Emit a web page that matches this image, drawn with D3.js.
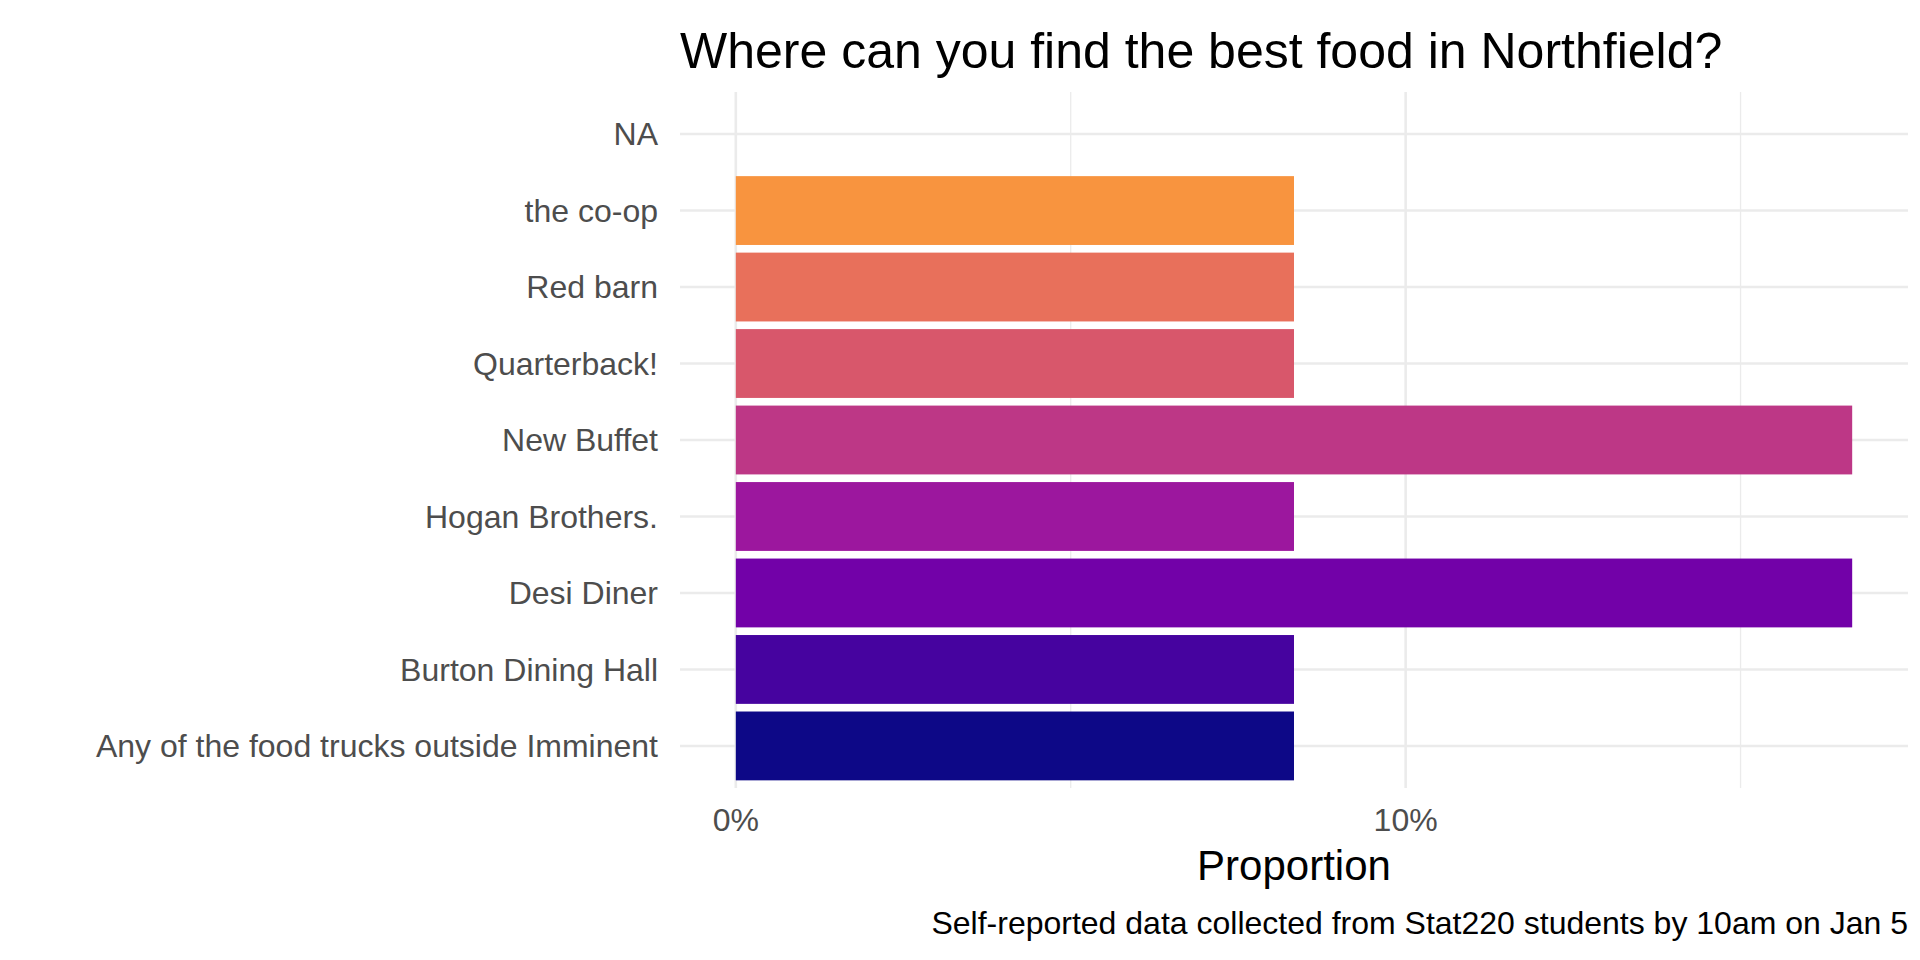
<!DOCTYPE html>
<html>
<head>
<meta charset="utf-8">
<script src="https://cdn.jsdelivr.net/npm/d3@7"></script>
<style>
  body { margin: 0; background: #fff; }
  text { font-family: "Liberation Sans", Arial, sans-serif; }
</style>
</head>
<body>
<svg id="chart" width="1920" height="960"></svg>
<script>
// categories bottom to top
var places = ['Any of the food trucks outside Imminent', 'Burton Dining Hall', 'Desi Diner',
    'Hogan Brothers.', 'New Buffet', 'Quarterback!', 'Red barn', 'the co-op', 'NA'];
var proportions = [1 / 12, 1 / 12, 2 / 12, 1 / 12, 2 / 12, 1 / 12, 1 / 12, 1 / 12, null];
var fills = ['#0d0887', '#46039f', '#7201a8', '#9c179e', '#bd3786', '#d8576b', '#e8705b', '#f8943f', null];
var xTicks = [0, 0.1];
var xMinor = [0.05, 0.15];

(function () {
    var svg = d3.select('#chart');
    var pLeft = 680, pRight = 1908, pTop = 92, pBottom = 788;

    var x = d3.scaleLinear().domain([-1 / 120, 0.175]).range([pLeft, pRight]);
    var y = d3.scaleBand().domain(places.slice().reverse()).range([pTop, pBottom]).padding(0.1);

    // grid
    svg.selectAll('.minor').data(xMinor).enter().append('line')
        .attr('x1', function (d) { return x(d); }).attr('x2', function (d) { return x(d); })
        .attr('y1', pTop).attr('y2', pBottom)
        .attr('stroke', '#ebebeb').attr('stroke-width', 1.3);
    svg.selectAll('.major').data(xTicks).enter().append('line')
        .attr('x1', function (d) { return x(d); }).attr('x2', function (d) { return x(d); })
        .attr('y1', pTop).attr('y2', pBottom)
        .attr('stroke', '#ebebeb').attr('stroke-width', 2.6);
    svg.selectAll('.hgrid').data(places).enter().append('line')
        .attr('x1', pLeft).attr('x2', pRight)
        .attr('y1', function (d) { return y(d) + y.bandwidth() / 2; })
        .attr('y2', function (d) { return y(d) + y.bandwidth() / 2; })
        .attr('stroke', '#ebebeb').attr('stroke-width', 2.6);

    // bars
    var rows = places.map(function (p, i) { return { name: p, value: proportions[i], fill: fills[i] }; })
        .filter(function (d) { return d.value !== null; });
    svg.selectAll('.bar').data(rows).enter().append('rect')
        .attr('x', x(0))
        .attr('y', function (d) { return y(d.name); })
        .attr('width', function (d) { return x(d.value) - x(0); })
        .attr('height', y.bandwidth())
        .attr('fill', function (d) { return d.fill; });

    // y labels
    svg.selectAll('.ylab').data(places).enter().append('text')
        .attr('x', 658)
        .attr('y', function (d) { return y(d) + y.bandwidth() / 2; })
        .attr('dy', '0.35em')
        .attr('text-anchor', 'end')
        .attr('font-size', 32).attr('fill', '#4d4d4d')
        .text(function (d) { return d; });

    // x labels
    svg.selectAll('.xlab').data(xTicks).enter().append('text')
        .attr('x', function (d) { return x(d); })
        .attr('y', 831)
        .attr('text-anchor', 'middle')
        .attr('font-size', 32).attr('fill', '#4d4d4d')
        .text(d3.format('.0%'));

    svg.append('text')
        .attr('x', (pLeft + pRight) / 2).attr('y', 880)
        .attr('text-anchor', 'middle').attr('font-size', 42)
        .text('Proportion');

    svg.append('text')
        .attr('x', pLeft).attr('y', 68)
        .attr('font-size', 50)
        .text('Where can you find the best food in Northfield?');

    svg.append('text')
        .attr('x', pRight).attr('y', 934)
        .attr('text-anchor', 'end').attr('font-size', 32)
        .text('Self-reported data collected from Stat220 students by 10am on Jan 5');
})();
</script>
</body>
</html>
